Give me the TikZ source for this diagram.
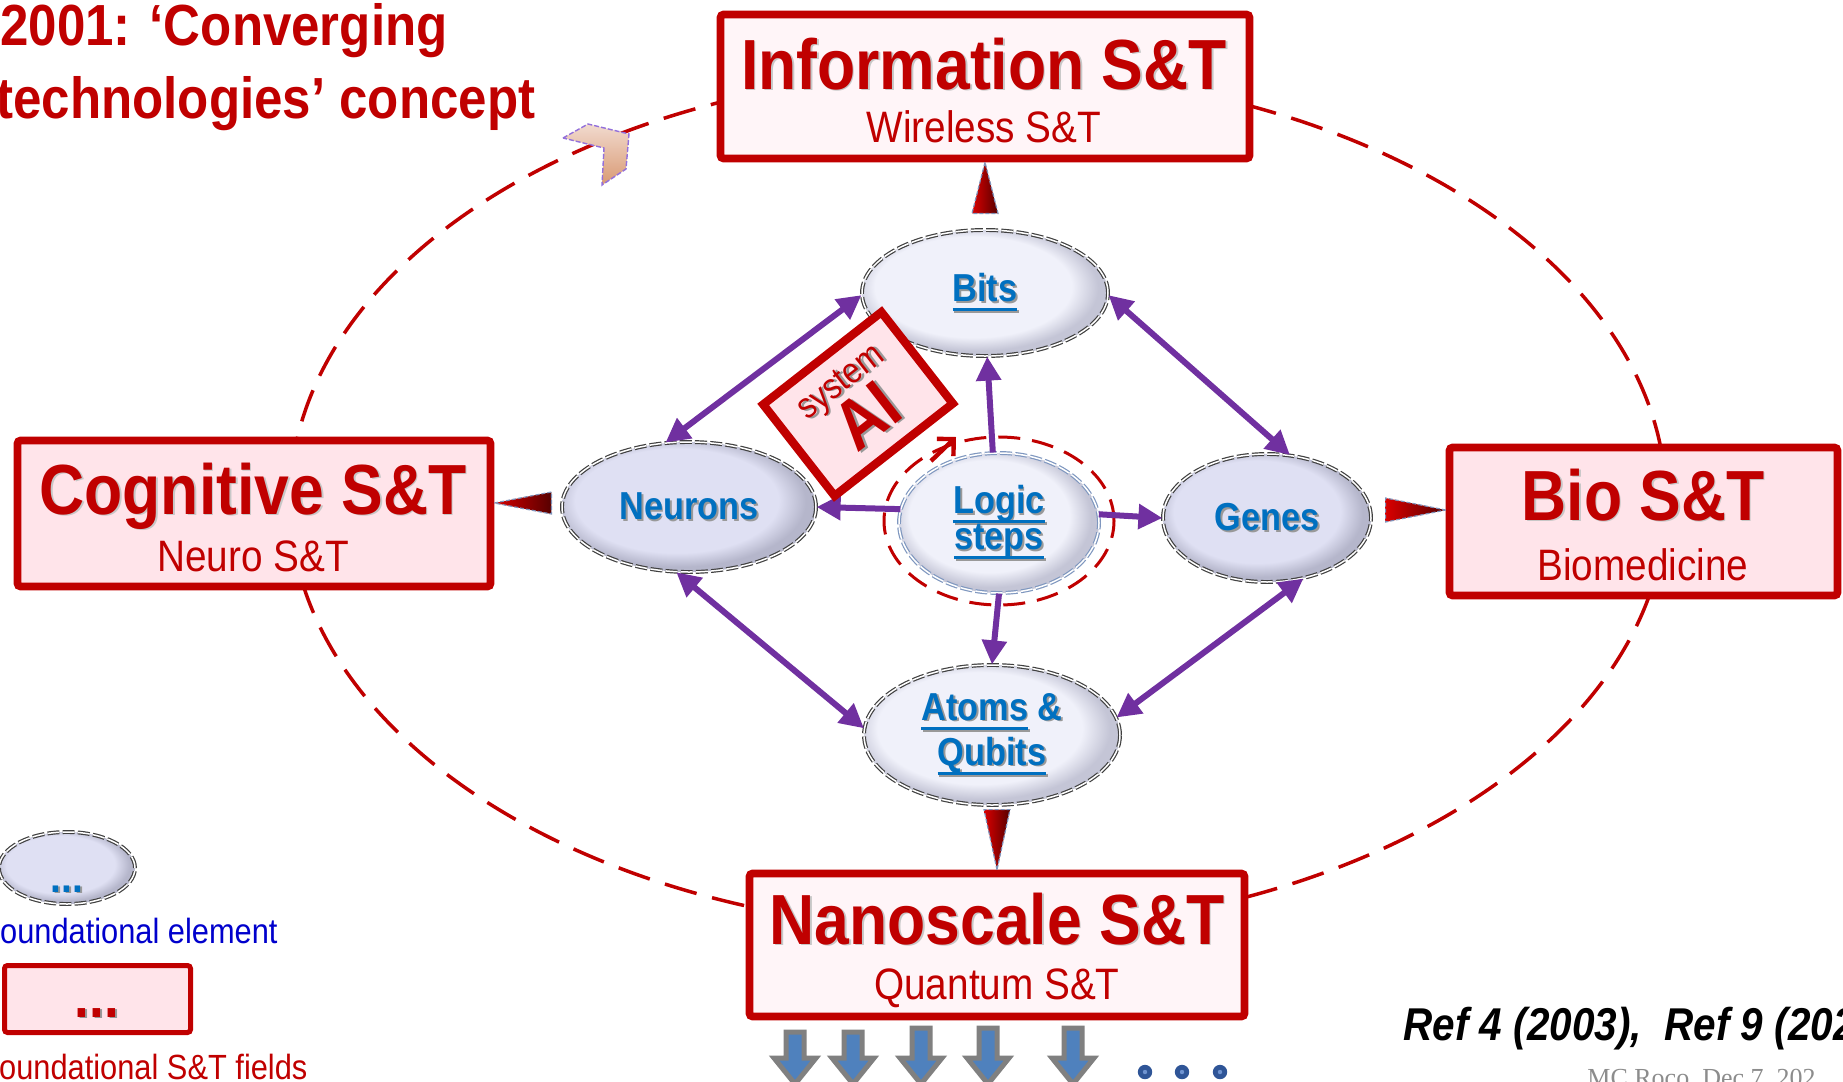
\documentclass[tikz,border=0pt]{standalone}
\usepackage{fontspec}
\setmainfont{Liberation Sans}[FakeStretch=0.88]
\newfontfamily\rocofont{Liberation Serif}
\usetikzlibrary{arrows.meta,calc,shapes.geometric}
\definecolor{dred}{HTML}{C00000}
\definecolor{pinkf}{HTML}{FFE4EA}
\definecolor{lpink}{HTML}{FFF5F8}
\definecolor{epurple}{HTML}{7030A0}
\definecolor{eblue}{HTML}{0070C0}
\definecolor{legblue}{HTML}{0000CC}
\definecolor{ellA}{HTML}{F0F1FA}
\definecolor{ellAo}{HTML}{C4C5D6}
\definecolor{ellB}{HTML}{DFE0F3}
\definecolor{ellBo}{HTML}{B5B6CB}
\definecolor{arrblue}{HTML}{4F81BD}
\definecolor{arrgray}{HTML}{808080}
\definecolor{dotblue}{HTML}{2F5597}
\definecolor{dotlight}{HTML}{6F93D0}
\definecolor{tridash}{HTML}{7F93BB}
\definecolor{chevdash}{HTML}{9370DB}
\definecolor{logicdash}{HTML}{7F97BF}
\pgfdeclareradialshading{rimA}{\pgfpoint{-4bp}{4bp}}{color(0bp)=(ellA); color(20bp)=(ellA); color(25bp)=(ellAo); color(50bp)=(ellAo)}
\pgfdeclareradialshading{rimB}{\pgfpoint{-4bp}{4bp}}{color(0bp)=(ellB); color(20bp)=(ellB); color(25bp)=(ellBo); color(50bp)=(ellBo)}
\lineskiplimit=-100pt
\newcommand\shd[2]{{\leavevmode\rlap{\kern0.9pt\raisebox{-0.9pt}{\color{black!40}#2}}{\color{#1}#2}}}
\newcommand\shl[2]{{\leavevmode\rlap{\kern0.8pt\raisebox{-0.8pt}{\color{black!22}#2}}{\color{#1}#2}}}
\newcommand\ulx[1]{{\setbox0=\hbox{#1}\rlap{\rule[-5pt]{\wd0}{1.6pt}}\box0}}
\begin{document}
\begin{tikzpicture}[x=0.5pt,y=-0.5pt,
  fieldbox/.style={draw=dred, line width=3.8pt, rounded corners=1.5pt, inner sep=0pt},
  ttl/.style={anchor=base, inner sep=0pt, font=\bfseries\fontsize{35.5}{40}\selectfont},
  subt/.style={anchor=base, inner sep=0pt, text=dred, font=\fontsize{22}{26}\selectfont},
  elem/.style={ellipse, inner sep=0pt, align=center, draw=black!75, double=white, line width=0.6pt, double distance=0.75pt, dash pattern=on 6pt off 1.6pt, font=\bfseries\fontsize{19.5}{18}\selectfont},
  elemA/.style={elem, shade, shading=rimA},
  elemB/.style={elem, shade, shading=rimB},
  linktwo/.style={draw=epurple, line width=3pt, {Triangle[length=12pt,width=12pt]}-{Triangle[length=12pt,width=12pt]}},
  linkone/.style={draw=epurple, line width=3pt, -{Triangle[length=12pt,width=12pt]}},
  redtri/.style={left color=red!85!black, right color=dred!45!black, draw=tridash, line width=0.6pt, dash pattern=on 2pt off 1pt},
  blockarr/.style={fill=arrblue, draw=arrgray, line width=2.5pt, line join=miter},
  plaintext/.style={inner sep=0pt}
]
\useasboundingbox (0,0) rectangle (1843,1082);
\clip (0,0) rectangle (1843,1082);

% big dashed cycle
\draw[dred, line width=1.75pt, dash pattern=on 16.5pt off 8pt] (978,501) ellipse [x radius=344pt, y radius=215pt];
% chevron on the cycle
\draw[top color=pinkf!60!brown!55, bottom color=brown!60!pink, draw=chevdash, line width=0.7pt, dash pattern=on 2.5pt off 1pt]
  (563,138) -- (588,124) -- (629,134) -- (626,169) -- (602,185) -- (604,148) -- cycle;

% title
\node[plaintext, anchor=base west, text=dred, font=\bfseries\fontsize{29}{34}\selectfont] (title1) at (0,45) {2001: ‘Converging};
\node[plaintext, anchor=base west, text=dred, font=\bfseries\fontsize{29}{34}\selectfont] (title2) at (-4,118) {technologies’ concept};

% field boxes
\node[fieldbox, fill=lpink, minimum width=264.5pt, minimum height=72pt] (info) at (985,86.5) {};
\node[ttl] (infot) at (984,89) {\shl{dred}{Information S\&T}};
\node[subt] (infos) at (984,142) {Wireless S\&T};

\node[fieldbox, fill=pinkf, minimum width=236.5pt, minimum height=73pt] (cog) at (254,513.5) {};
\node[ttl] (cogt) at (253,514) {\shl{dred}{Cognitive S\&T}};
\node[subt] (cogs) at (253,571) {Neuro S\&T};

\node[fieldbox, fill=pinkf, minimum width=194pt, minimum height=74pt] (bio) at (1643.5,521.5) {};
\node[ttl] (biot) at (1643,520) {\shl{dred}{Bio S\&T}};
\node[subt] (bios) at (1643,580) {Biomedicine};

\node[fieldbox, fill=lpink, minimum width=247.5pt, minimum height=71.5pt] (nano) at (997,945) {};
\node[ttl] (nanot) at (997,944) {\shl{dred}{Nanoscale S\&T}};
\node[subt] (nanos) at (997,999) {Quantum S\&T};

% foundational elements
\node[ellipse, draw=dred, line width=1.5pt, dash pattern=on 11pt off 6pt, minimum width=115pt, minimum height=84pt, inner sep=0pt] (logicring) at (999,521) {};
\node[elemA, minimum width=123pt, minimum height=63pt] (bits) at (985,293) {\shd{eblue}{\ulx{Bits}}};
\node[elemB, minimum width=127pt, minimum height=65pt] (neurons) at (689,507) {\shd{eblue}{Neurons}};
\node[elemA, draw=logicdash, minimum width=100pt, minimum height=70pt] (logic) at (999,523) {\shd{eblue}{\ulx{Logic}}\\\shd{eblue}{\ulx{steps}}};
\node[elemB, minimum width=104pt, minimum height=64pt] (genes) at (1267,518) {\shd{eblue}{Genes}};
\node[elemA, minimum width=128pt, minimum height=70pt] (atoms) at (992,735) {\shd{eblue}{\ulx{Atoms} \&}\\[4.5pt]\shd{eblue}{\ulx{Qubits}}};

% links between elements
\draw[linktwo] (bits.181) -- (neurons.110);
\draw[linktwo] (bits.359) -- (genes.70);
\draw[linktwo] (neurons.259) -- (atoms.177);
\draw[linktwo] (genes.301) -- (atoms.8);
\draw[linkone] (logic.95) -- (bits.272);
\draw[linkone] (logic.172) -- (neurons.0);
\draw[linkone] (logic.5) -- (genes.180);
\draw[linkone] (logic.270) -- (atoms.90);

% AI system
\node[draw=dred, line width=4.2pt, fill=pinkf, rotate=38, minimum width=75pt, minimum height=58pt, inner sep=0pt] (ai) at (858,404) {};
\node[plaintext, rotate=38, align=center, font=\fontsize{18}{28.5}\selectfont] (aitext) at (858,404) {\shd{dred}{system}\\{\bfseries\fontsize{35}{28.5}\selectfont\shd{dred}{AI}}};
\coordinate (aiarA) at (931,461);
\coordinate (aiarB) at (956,437);
\draw[dred, line width=2.2pt, -{Straight Barb[length=6pt,width=12pt]}] (aiarA) -- (aiarB);

% red pointers from elements to fields
\path[redtri] (info.south) -- ($(bits.north)+(-13,-16)$) -- ($(bits.north)+(13,-16)$) -- cycle;
\path[redtri] ($(cog.east |- neurons.west)+(0,-4)$) -- ($(neurons.west)+(-10,-15)$) -- ($(neurons.west)+(-10,7)$) -- cycle;
\path[redtri] ($(bio.west |- genes.east)+(0,-8)$) -- ($(genes.east)+(14,-20)$) -- ($(genes.east)+(14,4)$) -- cycle;
\path[redtri] (nano.north) -- ($(nano.north |- atoms.south)+(-13,4)$) -- ($(nano.north |- atoms.south)+(13,4)$) -- cycle;

% legend
\node[elem, shade, shading=rimB, minimum width=68pt, minimum height=36pt] (legell) at (67,868) {};
\node[plaintext, anchor=base, font=\bfseries\fontsize{22}{24}\selectfont] (legelldots) at (67,892) {\shd{eblue}{...}};
\node[plaintext, anchor=base west, text=legblue, font=\fontsize{17.5}{20}\selectfont] (legelltxt) at (-19,943) {Foundational element};
\node[fieldbox, line width=2.5pt, fill=pinkf, minimum width=93pt, minimum height=33.5pt] (legbox) at (97.5,999) {};
\node[plaintext, anchor=base, font=\bfseries\fontsize{30}{32}\selectfont] (legboxdots) at (97,1017) {\shd{dred}{...}};
\node[plaintext, anchor=base west, text=dred, font=\fontsize{17.5}{20}\selectfont] (legboxtxt) at (-20,1079) {Foundational S\&T fields};

% outgoing arrows
\foreach \cx/\ty in {795/1032,853/1032,921/1028,988/1028,1073/1028}
  \draw[blockarr] (\cx-9,\ty) -- (\cx+9,\ty) -- (\cx+9,1058) -- (\cx+21,1058) -- (\cx,1084) -- (\cx-21,1058) -- (\cx-9,1058) -- cycle;
\foreach \cx in {1145,1182,1220} {
  \fill[dotblue] (\cx,1072) circle[radius=3.6pt];
  \fill[dotlight] (\cx,1072) circle[radius=1.1pt];
}

% references
\node[plaintext, anchor=base west, font=\bfseries\itshape\fontsize{23}{26}\selectfont] (refs) at (1403,1040) {Ref 4 (2003),~ Ref 9 (202};
\node[plaintext, anchor=base west, text=black!45, font=\rocofont\fontsize{13}{15}\selectfont] (roco) at (1587,1086) {MC Roco, Dec 7, 202};
\end{tikzpicture}
\end{document}
